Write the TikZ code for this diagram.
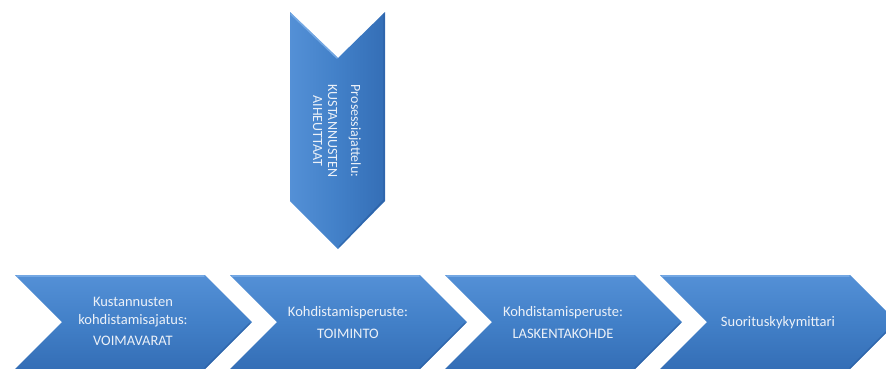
\documentclass[tikz,border=0pt]{standalone}
\usepackage{fontspec}
\setmainfont{Carlito}
\definecolor{cTop}{RGB}{84,144,214}
\definecolor{cMid}{RGB}{66,128,200}
\definecolor{cBot}{RGB}{52,110,182}
\definecolor{cHi}{RGB}{125,175,232}
\definecolor{cDark}{RGB}{40,92,160}
\definecolor{cText}{RGB}{236,241,248}
\begin{document}
\begin{tikzpicture}[x=1pt,y=-1pt,
  chevfill/.style={top color=cTop, bottom color=cBot, middle color=cMid, draw=none},
  vchevfill/.style={left color=cTop, right color=cBot, middle color=cMid, draw=none},
  hiline/.style={draw=cHi, line width=1.6pt, line cap=round, opacity=0.8},
  loline/.style={draw=cDark, line width=1.4pt, line cap=round, opacity=0.6},
  lbl/.style={text=cText, font=\fontsize{14.5}{18}\selectfont, align=center, inner sep=0pt}]
\useasboundingbox (0,0) rectangle (886,368);
\begin{scope}
\clip (0,0) rectangle (886,368);
% bottom chevrons
\foreach \L in {15,230,445,660}{
  \path[chevfill] (\L,275) -- ({\L+190},275) -- ({\L+237},322) -- ({\L+190},369)
    -- (\L,369) -- ({\L+47},322) -- cycle;
  \draw[hiline] ({\L+2},276) -- ({\L+189},276);
  \draw[loline] ({\L+235},323) -- ({\L+190},368);
}
% vertical chevron
\path[vchevfill] (290,12) -- (338,58) -- (385,12) -- (385,201) -- (338,249) -- (290,201) -- cycle;
\draw[hiline] (291,14) -- (337,58);
\draw[loline] (384,14) -- (384,200) -- (339,247);
\end{scope}
% labels
\node[lbl] (c1) at (133,321) {Kustannusten\\kohdistamisajatus:\\[3pt]VOIMAVARAT};
\node[lbl] (c2) at (348,323) {Kohdistamisperuste:\\[4pt]TOIMINTO};
\node[lbl] (c3) at (563,323) {Kohdistamisperuste:\\[4pt]LASKENTAKOHDE};
\node[lbl] (c4) at (778,323) {Suorituskykymittari};
\node[lbl, rotate=-90, font=\fontsize{14}{15}\selectfont] (v) at (337,131)
  {Prosessiajattelu:\\[8pt]KUSTANNUSTEN\\AIHEUTTAAT};
\end{tikzpicture}
\end{document}
